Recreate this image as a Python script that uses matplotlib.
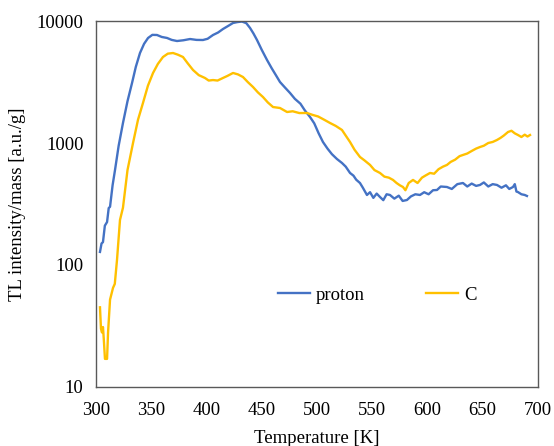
import numpy as np
import matplotlib.pyplot as plt

plt.rcParams['font.family'] = ['Liberation Serif', 'DejaVu Serif']

# proton series (temperature K, intensity)
proton_T = [303.6, 305.0, 306.3, 308.0, 310.0, 311.5, 312.7, 315.0, 317.2, 320.5, 324.4,
            328.5, 332.6, 336.0, 339.8, 343.5, 347.1, 351.0, 355.2, 359.5, 364.3, 368.5,
            373.3, 379.0, 385.1, 391.0, 396.8, 401.0, 405.9, 410.5, 414.9, 419.5, 424.0,
            428.0, 432.1, 436.0, 439.4, 442.5, 445.7, 450.0, 454.8, 459.0, 463.8, 466.5,
            471.0, 475.6, 480.0, 485.0, 489.0, 493.7, 497.5, 501.5, 505.4, 509.5, 513.5,
            518.0, 522.6, 526.0, 529.9, 533.0, 535.5, 538.9, 541.5, 545.2, 548.0, 551.0,
            554.0, 557.0, 560.0, 563.0, 566.0, 570.0, 574.0, 577.5, 581.4, 585.0, 589.0,
            593.2, 597.0, 601.0, 605.0, 608.6, 612.0, 617.6, 622.0, 627.0, 632.1, 636.0,
            640.0, 644.0, 647.5, 651.0, 655.0, 659.0, 662.9, 667.0, 671.0, 674.0, 677.4,
            679.0, 680.5, 681.9, 685.0, 688.0, 690.0]
proton_I = [128, 150, 154, 210, 225, 293, 300, 450, 601, 950, 1459,
            2200, 3104, 4200, 5467, 6500, 7259, 7700, 7680, 7400, 7260, 7000,
            6855, 6950, 7117, 7000, 6987, 7150, 7680, 8050, 8596, 9100, 9634,
            9800, 9900, 9600, 8770, 7900, 6987, 5800, 4786, 4100, 3475, 3162,
            2850, 2570, 2300, 2100, 1850, 1633, 1450, 1200, 1019, 900, 810,
            740, 686, 640, 568, 540, 500, 470, 430, 375, 395, 355,
            385, 361, 340, 380, 375, 350, 370, 335, 341, 365, 380,
            375, 395, 380, 410, 412, 440, 436, 420, 460, 470, 440,
            465, 445, 453, 475, 440, 460, 453, 430, 450, 420, 436,
            460, 400, 396, 380, 375, 368]

# C series
c_T = [303.6, 304.5, 305.4, 306.3, 307.0, 308.1, 310.0, 310.9, 312.7, 315.4, 317.0,
       319.0, 321.7, 324.4, 328.5, 333.5, 338.0, 342.5, 347.0, 351.6, 356.0, 360.6,
       365.0, 369.7, 374.0, 378.7, 383.0, 387.8, 393.0, 398.6, 402.0, 405.9, 410.0,
       414.9, 419.0, 424.0, 428.5, 433.0, 437.5, 442.1, 446.5, 451.1, 455.5, 460.2,
       466.5, 472.9, 478.0, 484.0, 491.0, 496.0, 501.0, 506.0, 511.8, 517.0, 522.6,
       526.0, 529.9, 534.0, 538.9, 543.0, 548.0, 552.0, 557.0, 561.0, 565.0, 568.8,
       572.0, 575.0, 577.8, 580.0, 583.0, 586.9, 591.0, 595.0, 598.0, 602.3, 606.0,
       610.0, 614.0, 617.6, 621.0, 625.0, 629.0, 632.1, 636.0, 640.0, 644.0, 647.5,
       651.0, 655.0, 659.0, 662.9, 666.0, 669.0, 672.9, 676.0, 679.0, 681.9, 685.0,
       688.0, 690.5, 692.8]
c_I = [45, 30, 28, 31, 25, 17, 17, 28, 52, 65, 70,
       110, 234, 295, 600, 1000, 1550, 2128, 2950, 3750, 4450, 5070,
       5400, 5467, 5300, 5070, 4500, 3966, 3600, 3412, 3250, 3281, 3250,
       3412, 3550, 3750, 3650, 3475, 3150, 2877, 2600, 2382, 2150, 1972,
       1936, 1795, 1820, 1760, 1762, 1700, 1650, 1560, 1459, 1380, 1279,
       1150, 1019, 880, 768, 720, 661, 600, 568, 530, 520, 498,
       470, 450, 436, 410, 470, 498, 470, 520, 540, 568, 560,
       610, 640, 661, 700, 730, 780, 798, 820, 860, 900, 927,
       950, 1000, 1020, 1059, 1100, 1150, 1231, 1260, 1200, 1163, 1120,
       1170, 1130, 1163]

fig = plt.figure(figsize=(5.54, 4.46), dpi=100)
ax = fig.add_axes([0.1733, 0.1323, 0.7978, 0.8206])

ax.plot(proton_T, proton_I, color='#4472C4', lw=1.7, label='proton')
ax.plot(c_T, c_I, color='#FFC000', lw=1.7, label='C')

ax.set_yscale('log')
ax.set_xlim(300, 700)
ax.set_ylim(10, 10000)
ax.set_xticks([300, 350, 400, 450, 500, 550, 600, 650, 700])
ax.set_yticks([10, 100, 1000, 10000])
ax.set_yticklabels(['10', '100', '1000', '10000'])
ax.yaxis.set_minor_locator(plt.NullLocator())
ax.tick_params(length=0, labelsize=13.5, pad=9)
ax.tick_params(axis='x', pad=11)

for s in ax.spines.values():
    s.set_color('#595959')
    s.set_linewidth(1.0)

ax.set_xlabel('Temperature [K]', fontsize=13.5, labelpad=8)
ax.set_ylabel('TL intensity/mass [a.u./g]', fontsize=13.5, labelpad=8)

ax.legend(loc='center', bbox_to_anchor=(0.636, 0.251), ncol=2, frameon=False,
          fontsize=13.5, handlelength=1.7, handletextpad=0.3, columnspacing=3.3)

fig.savefig('out.png', dpi=100)
